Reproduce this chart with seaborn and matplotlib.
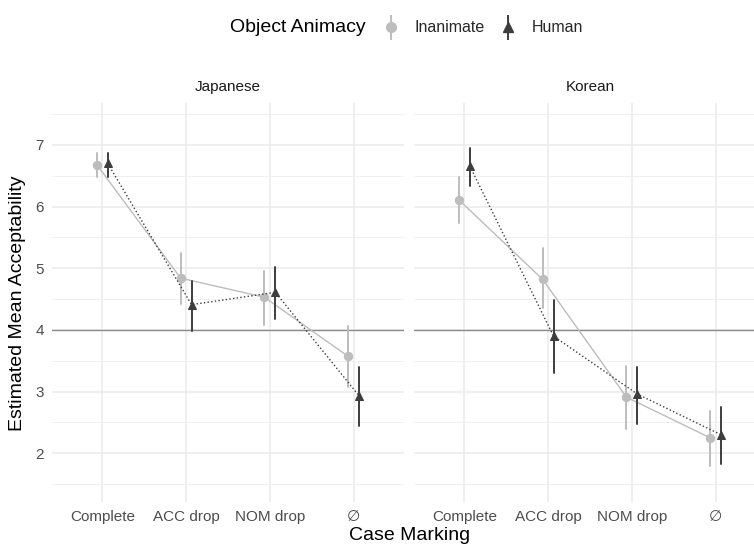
import numpy as np
import pandas as pd
import matplotlib
matplotlib.use("Agg")
import matplotlib.pyplot as plt
from matplotlib.lines import Line2D
import seaborn as sns

# values
cases = ["Complete", "ACC drop", "NOM drop", "\u2205"]
animacy = ["Inanimate", "Human"]

jp_inanimate_est = [6.68, 4.84, 4.53, 3.57]
jp_inanimate_lo = [6.48, 4.42, 4.08, 3.08]
jp_inanimate_hi = [6.87, 5.25, 4.96, 4.06]
jp_human_est = [6.70, 4.41, 4.61, 2.93]
jp_human_lo = [6.48, 3.99, 4.18, 2.45]
jp_human_hi = [6.87, 4.80, 5.02, 3.40]

kr_inanimate_est = [6.11, 4.82, 2.91, 2.25]
kr_inanimate_lo = [5.73, 4.35, 2.39, 1.79]
kr_inanimate_hi = [6.48, 5.33, 3.41, 2.68]
kr_human_est = [6.66, 3.90, 2.96, 2.30]
kr_human_lo = [6.34, 3.30, 2.48, 1.83]
kr_human_hi = [6.95, 4.49, 3.40, 2.75]

reference_line = 4
palette = {"Inanimate": "#bdbdbd", "Human": "#3d3d3d"}


def build_frame(series):
    # three rows per point: lower bound, estimate, upper bound
    # median -> estimate, 100% percentile interval -> bounds
    rows = []
    for level, (lo, est, hi) in series.items():
        for case, a, b, c in zip(cases, lo, est, hi):
            for v in (a, b, c):
                rows.append({"case": case, "animacy": level, "value": v})
    return pd.DataFrame(rows)


panels = {
    "Japanese": build_frame({
        "Inanimate": (jp_inanimate_lo, jp_inanimate_est, jp_inanimate_hi),
        "Human": (jp_human_lo, jp_human_est, jp_human_hi),
    }),
    "Korean": build_frame({
        "Inanimate": (kr_inanimate_lo, kr_inanimate_est, kr_inanimate_hi),
        "Human": (kr_human_lo, kr_human_est, kr_human_hi),
    }),
}

sns.set_theme(style="white")
plt.rcParams["font.family"] = ["Liberation Sans", "DejaVu Sans"]

W, H = 754, 545
fig = plt.figure(figsize=(W / 100, H / 100), dpi=100)

panel_left = [52, 414]
panel_w = 352
panel_top, panel_bottom = 103, 502

for i, (lang, df) in enumerate(panels.items()):
    ax = fig.add_axes([panel_left[i] / W, 1 - panel_bottom / H,
                       panel_w / W, (panel_bottom - panel_top) / H])
    ax.axhline(reference_line, color="#8a8a8a", lw=1.0, zorder=1)
    sns.pointplot(data=df, x="case", y="value", hue="animacy",
                  order=cases, hue_order=animacy, palette=palette,
                  estimator="median", errorbar=("pi", 100),
                  markers=["o", "^"], linestyles=["-", ":"],
                  dodge=0.13, markersize=6, linewidth=1.0,
                  err_kws={"linewidth": 1.4}, legend=False, ax=ax)
    ax.set_xlim(-0.6, 3.6)
    ax.set_ylim(1.21, 7.68)
    ax.set_yticks([2, 3, 4, 5, 6, 7])
    ax.set_yticks(np.arange(1.5, 7.6, 1.0), minor=True)
    ax.grid(True, which="major", color="#ebebeb", lw=1.1)
    ax.grid(True, which="minor", axis="y", color="#f0f0f0", lw=0.7)
    ax.set_axisbelow(True)
    for s in ax.spines.values():
        s.set_visible(False)
    ax.tick_params(which="both", length=0, labelsize=11, colors="#4d4d4d",
                   pad=6)
    ax.set_xlabel("")
    ax.set_ylabel("")
    if i == 1:
        ax.tick_params(axis="y", labelleft=False)
    fig.text((panel_left[i] + panel_w / 2) / W, 1 - 87 / H, lang,
             ha="center", va="center", fontsize=11, color="#1a1a1a")

fig.text(18 / W, 1 - 303 / H, "Estimated Mean Acceptability", rotation=90,
         ha="center", va="center", fontsize=14, color="#000000")
fig.text(410 / W, 1 - 540 / H, "Case Marking", ha="center", va="baseline",
         fontsize=14, color="#000000")

# legend: title on the left, entries in one row
fig.text(366 / W, 1 - 28 / H, "Object Animacy", ha="right", va="center",
         fontsize=14, color="#000000")
handles = []
for level, m in zip(animacy, ["o", "^"]):
    pt = Line2D([], [], marker=m, color=palette[level], lw=0, markersize=7)
    bar = Line2D([], [], marker="|", color=palette[level], lw=0,
                 markersize=18, markeredgewidth=1.4)
    handles.append((bar, pt))
fig.legend(handles, animacy, loc="center left", bbox_to_anchor=(375 / W, 1 - 28 / H),
           ncol=2, frameon=False, fontsize=11.5, handlelength=1.2,
           handletextpad=0.9, columnspacing=0.8, borderaxespad=0)

fig.savefig("out.png", dpi=100)
